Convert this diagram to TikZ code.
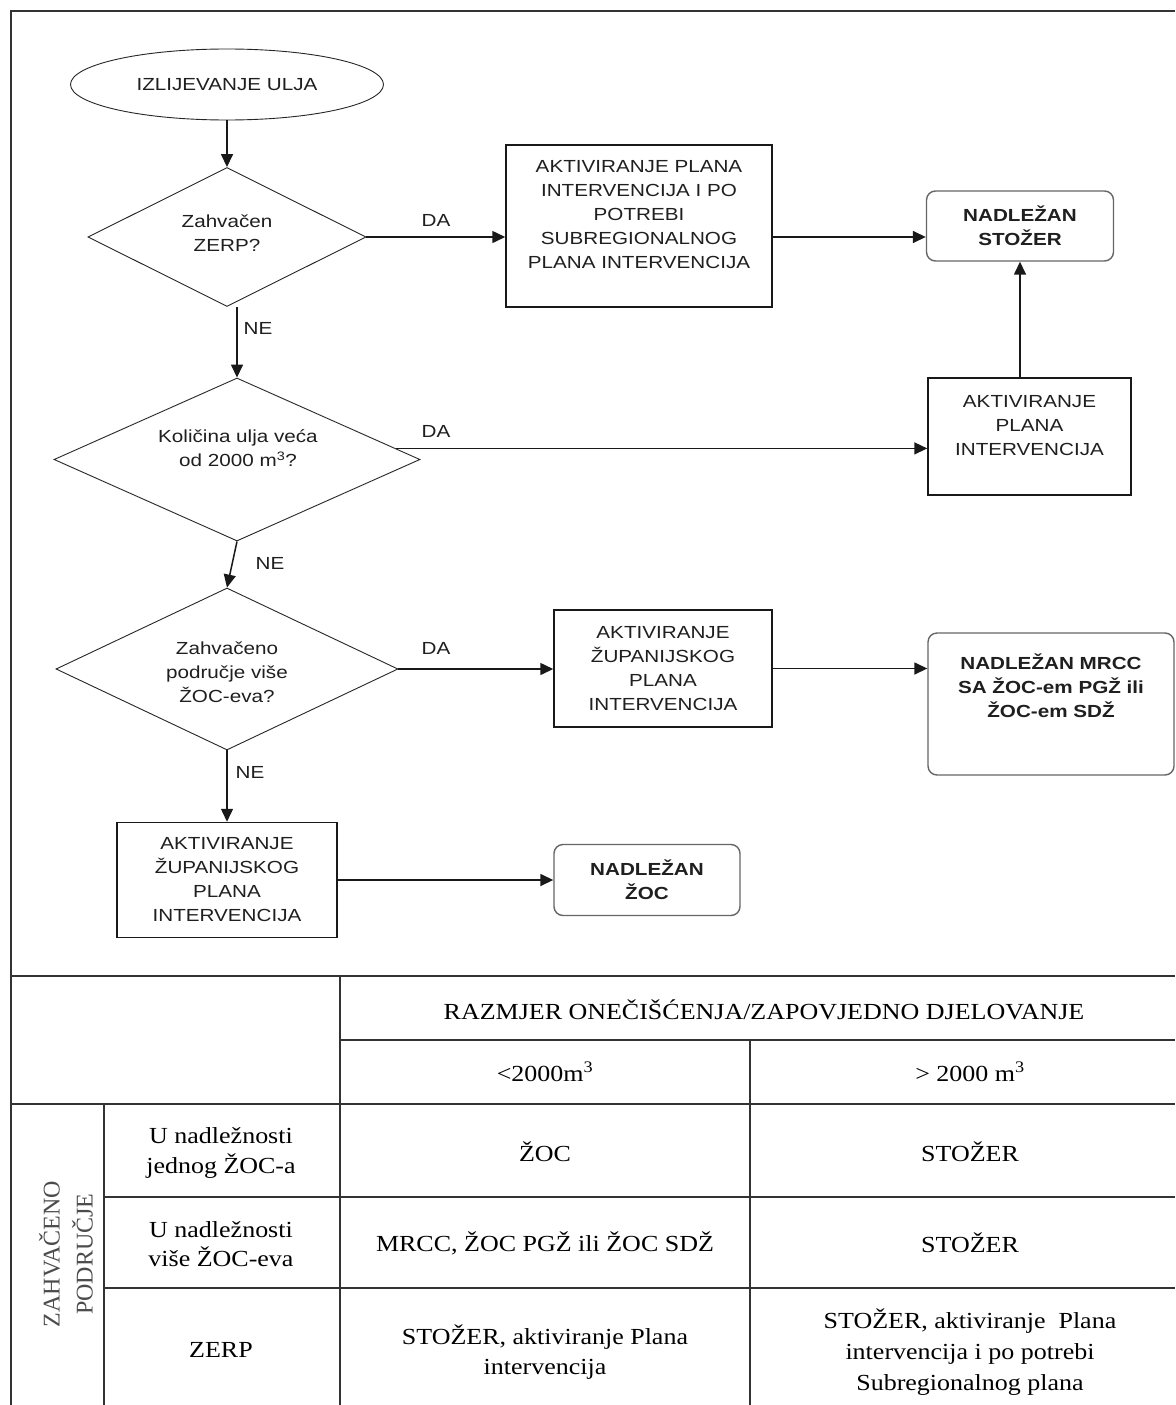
\documentclass[tikz,border=0pt]{standalone}
\usepackage{fontspec}
\usetikzlibrary{shapes.geometric,arrows.meta,calc}
\newfontfamily\fcsans[FakeStretch=1.18]{Liberation Sans}
\newfontfamily\tbserif[FakeStretch=1.13]{Liberation Serif}
\newfontfamily\rotserif{Liberation Serif}
\newcommand\myfc{\fcsans\fontsize{17.5}{24}\selectfont}
\newcommand\mytb{\tbserif\fontsize{23}{29.5}\selectfont}
\newcommand\myrot{\rotserif\fontsize{24}{33}\selectfont}
\begin{document}
\begin{tikzpicture}[x=1pt,y=-1pt,
  fc/.style={font=\myfc, align=center, inner sep=0, text=black!88},
  fcb/.style={font={\myfc\bfseries}, align=center, inner sep=0, text=black!88},
  boxr/.style={draw=black!90, line width=1.5pt, rectangle, inner sep=0},
  rboxr/.style={draw=black!60, line width=1.4pt, rectangle, rounded corners=9pt, inner sep=0},
  dia/.style={draw=black!85, line width=0.9pt, diamond, inner sep=0},
  arr/.style={-{Triangle[length=13pt,width=12pt]}, line width=1.5pt, draw=black!90},
  tb/.style={font=\mytb, align=center, inner sep=0},
  tline/.style={line width=1.7pt, draw=black!80}
]
\useasboundingbox (0,0) rectangle (1175,1405);
\fill[white] (0,0) rectangle (1175,1405);

% frame
\draw[tline] (11,1405) -- (11,11) -- (1175,11);
\draw[tline] (11,976) -- (1175,976);

% ---------- flowchart ----------
\node[draw=black!85, line width=0.9pt, ellipse, inner sep=0, minimum width=313pt, minimum height=71pt, fc] (el) at (227,84.5) {IZLIJEVANJE ULJA};

\node[dia, minimum width=278pt, minimum height=139pt] (d1) at (227,237) {};
\node[fc] (d1t) at (227,233) {Zahvačen\\ZERP?};

\node[boxr, minimum width=266pt, minimum height=162pt] (b1) at (639,226) {};
\node[fc] (b1t) at (639,215) {AKTIVIRANJE PLANA\\INTERVENCIJA I PO\\POTREBI\\SUBREGIONALNOG\\PLANA INTERVENCIJA};

\node[rboxr, minimum width=187pt, minimum height=70pt, fcb] (s1) at (1020,226) {NADLEŽAN\\STOŽER};

\node[boxr, minimum width=203pt, minimum height=117pt] (rb) at (1029.5,436.5) {};
\node[fc] (rbt) at (1029.5,426) {AKTIVIRANJE\\PLANA\\INTERVENCIJA};

\node[dia, minimum width=366pt, minimum height=163pt] (d2) at (237,459.5) {};
\node[fc] (d2t) at (238,448) {Količina ulja veća\\od 2000 m\textsuperscript{3}?};

\node[dia, minimum width=342pt, minimum height=162pt] (d3) at (227,669) {};
\node[fc] (d3t) at (227,672) {Zahvačeno\\područje više\\ŽOC-eva?};

\node[boxr, minimum width=218pt, minimum height=117pt, fc] (z1) at (663,668.5) {AKTIVIRANJE\\ŽUPANIJSKOG\\PLANA\\INTERVENCIJA};

\node[rboxr, minimum width=246pt, minimum height=142pt] (mr) at (1051,704) {};
\node[fcb] (mrt) at (1051,686) {NADLEŽAN MRCC\\SA ŽOC-em PGŽ ili\\ŽOC-em SDŽ};

\node[boxr, minimum width=220pt, minimum height=115pt, fc] (z2) at (227,880) {AKTIVIRANJE\\ŽUPANIJSKOG\\PLANA\\INTERVENCIJA};

\node[rboxr, minimum width=186pt, minimum height=71pt, fcb] (nz) at (647,880) {NADLEŽAN\\ŽOC};

% connectors
\draw[arr] (el.south) -- (d1.north);
\draw[arr] (d1.east) -- (d1.east -| b1.west);
\draw[arr] (b1.east |- d1.east) -- (s1.west |- d1.east);
\draw[arr] (s1.south |- rb.north) -- (s1.south);
\draw[arr] (d1.south -| d2.north) -- (d2.north);
\draw[arr] (d2.4) -- (d2.4 -| rb.west);
\draw[arr] (d2.south) -- (d3.north);
\draw[arr] (d3.east) -- (d3.east -| z1.west);
\draw[arr] (z1.east) -- (z1.east -| mr.west);
\draw[arr] (d3.south) -- (d3.south |- z2.north);
\draw[arr] (z2.east) -- (nz.west);

% branch labels
\node[fc] (la1) at (436,220) {DA};
\node[fc] (ln1) at (258,328) {NE};
\node[fc] (la2) at (436,431) {DA};
\node[fc] (ln2) at (270,563) {NE};
\node[fc] (la3) at (436,648) {DA};
\node[fc] (ln3) at (250,772) {NE};

% ---------- table ----------
\draw[tline] (340,976) -- (340,1405);
\draw[tline] (340,1040) -- (1175,1040);
\draw[tline] (750,1040) -- (750,1405);
\draw[tline] (11,1104) -- (1175,1104);
\draw[tline] (104,1104) -- (104,1405);
\draw[tline] (104,1197) -- (1175,1197);
\draw[tline] (104,1288) -- (1175,1288);

\node[tb] (th) at (764,1010) {RAZMJER ONEČIŠĆENJA/ZAPOVJEDNO DJELOVANJE};
\node[tb] (tl) at (545,1072) {<2000m\textsuperscript{3}};
\node[tb] (tg) at (970,1072) {> 2000 m\textsuperscript{3}};

\node[font=\myrot, align=center, inner sep=0, rotate=90, text=black!70] (tz) at (66,1254) {ZAHVAČENO\\PODRUČJE};

\node[tb] (r1a) at (221,1153) {U nadležnosti\\jednog ŽOC-a};
\node[tb] (r1b) at (545,1152) {ŽOC};
\node[tb] (r1c) at (970,1152) {STOŽER};

\node[tb] (r2a) at (221,1244) {U nadležnosti\\više ŽOC-eva};
\node[tb] (r2b) at (545,1243) {MRCC, ŽOC PGŽ ili ŽOC SDŽ};
\node[tb] (r2c) at (970,1243) {STOŽER};

\node[tb] (r3a) at (221,1350) {ZERP};
\node[tb] (r3b) at (545,1352) {STOŽER, aktiviranje Plana\\intervencija};
\node[tb, font={\tbserif\fontsize{23}{31}\selectfont}] (r3c) at (970,1352) {STOŽER, aktiviranje\ \ Plana\\intervencija i po potrebi\\Subregionalnog plana};
\end{tikzpicture}
\end{document}
